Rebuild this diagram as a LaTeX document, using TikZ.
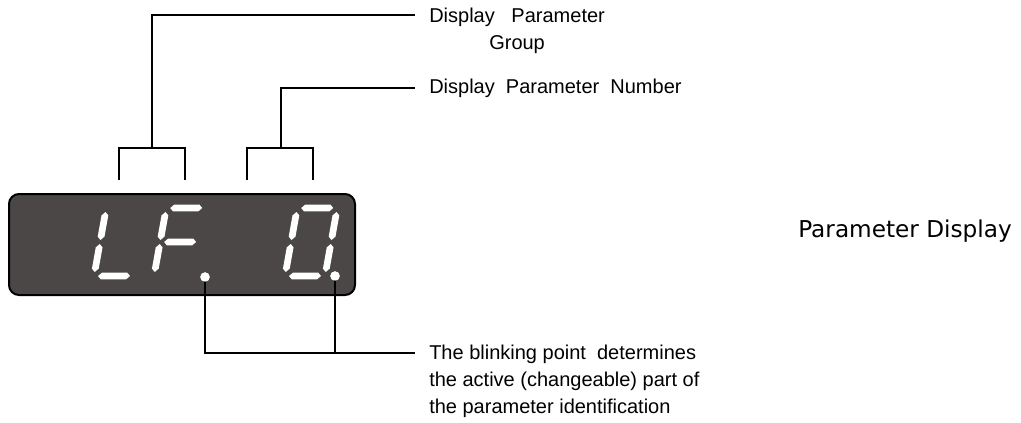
\documentclass[tikz,border=0pt]{standalone}
\usepackage{fontspec}
\setmainfont{Liberation Sans}
\newfontfamily\titlefont{DejaVu Sans}
\usepackage{tikz}
\usetikzlibrary{positioning, calc}
\definecolor{lcdgray}{HTML}{4B4746}
\tikzset{
  lcdbox/.style={draw=black, line width=1.5pt, fill=lcdgray, rounded corners=7.5pt,
                 minimum width=259.5pt, minimum height=75.75pt, inner sep=0pt},
  segfill/.style={fill=white},
  blinkdot/.style={circle, fill=white, inner sep=0pt, minimum size=7pt},
  lead/.style={draw=black, line width=1.2pt},
  lbl/.style={font=\fontsize{15}{20.3}\selectfont, inner ysep=0pt, inner xsep=10.5pt},
  title/.style={font=\titlefont\fontsize{17.4}{21}\selectfont, inner sep=0pt},
}
% one segment: horizontal (y, x from, x to) and vertical (x, y from, y to)
\newcommand{\hseg}[3]{\fill[segfill] (#2,#1) -- (#2+3.4,#1-3.4) -- (#3-3.4,#1-3.4) -- (#3,#1) -- (#3-3.4,#1+3.4) -- (#2+3.4,#1+3.4) -- cycle;}
\newcommand{\vseg}[3]{\fill[segfill] (#1,#2) -- (#1+3.4,#2+3.4) -- (#1+3.4,#3-3.4) -- (#1,#3) -- (#1-3.4,#3-3.4) -- (#1-3.4,#2+3.4) -- cycle;}
% seven segments of a digit
\newcommand{\sega}{\hseg{-68}{4}{36}}
\newcommand{\segb}{\vseg{40}{-64}{-36}}
\newcommand{\segc}{\vseg{40}{-32}{-4}}
\newcommand{\segd}{\hseg{0}{4}{36}}
\newcommand{\sege}{\vseg{0}{-32}{-4}}
\newcommand{\segf}{\vseg{0}{-64}{-36}}
\newcommand{\segg}{\hseg{-34}{4}{36}}

\begin{document}
\begin{tikzpicture}[x=0.75pt, y=-0.75pt]
  \useasboundingbox (0,0) rectangle (1021,422);

  % display
  \node[lcdbox] (lcd) at (182,244.5) {};

  % L F. 0.
  \begin{scope}[shift={(94,276)}, xslant=0.18] \segf\sege\segd \end{scope}
  \begin{scope}[shift={(154,276)}, xslant=0.18] \sega\segf\segg\sege \end{scope}
  \begin{scope}[shift={(285,276)}, xslant=0.18] \sega\segb\segc\segd\sege\segf \end{scope}

  % labels
  \node[lbl, anchor=north west, align=center] (grp) at (415,8) {Display\ \ \ Parameter\\Group};
  \node[lbl, anchor=west] (num) at (415,88) {Display\ \ Parameter\ \ Number};
  \node[lbl, anchor=north west, align=left] (blink) at (415,345)
    {The blinking point\ \ determines\\the active (changeable) part of\\the parameter identification};
  \node[title, anchor=base west] (ttl) at (798,237) {Parameter Display};

  % brackets above the digits
  \coordinate (grpS) at (152,148);
  \coordinate (grpT) at (152,15);
  \coordinate (numS) at (281,148);
  \draw[lead] (119,180) |- (185,148) -- (185,180);
  \draw[lead] (247,180) |- (313,148) -- (313,180);
  \draw[lead] (grpS) -- (grpT) -- (grpT -| grp.west);
  \draw[lead] (numS) |- (num.west);

  % blinking points
  \coordinate (bjoin) at (205,353);
  \node[blinkdot] (dotF) at (205,277) {};
  \node[blinkdot] (dot0) at (335,276) {};
  \draw[lead] (dotF.center) |- (bjoin -| blink.west);
  \draw[lead] (dot0.center) -- (dot0 |- bjoin);
  \node[blinkdot] at (dotF) {};
  \node[blinkdot] at (dot0) {};
\end{tikzpicture}
\end{document}
